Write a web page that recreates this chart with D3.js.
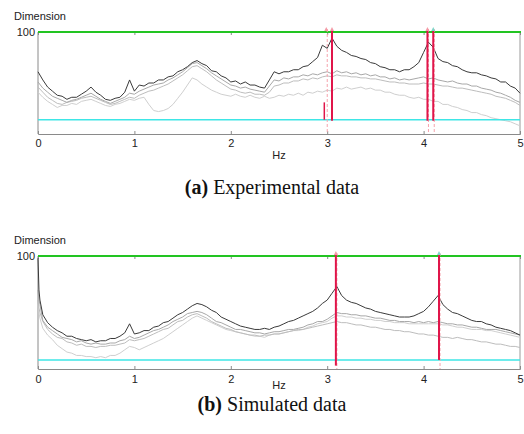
<!DOCTYPE html>
<html><head><meta charset="utf-8">
<script src="https://cdn.jsdelivr.net/npm/d3@7"></script>
<style>body{margin:0;background:#fff}svg{display:block}</style>
</head><body>
<svg id="c" width="524" height="434"></svg>
<script>
// ---------- data ----------
const xTicks = [0, 1, 2, 3, 4, 5];
const yTickLabel = "100";
const yLabel = "Dimension";
const xLabel = "Hz";
const captions = [["(a)", " Experimental data"], ["(b)", " Simulated data"]];

// (a) experimental – sampled every 0.05 Hz, 0..5
const expDark = [61,53,46,42,38,37,34,36,36,39,42,46,41,38,34,33,35,36,41,53,
42,48,47,50,50,53,53,56,57,61,63,66,70,72,69,67,62,61,57,55,
51,52,49,51,48,48,46,45,53,61,59,61,61,63,63,66,67,71,75,87,
84,94,86,82,80,77,76,74,73,70,69,66,65,63,63,61,63,63,66,70,
80,90,85,74,71,70,67,66,63,61,60,60,58,57,55,54,51,51,47,45,40];
const expGrayA = [51,45,41,37,35,33,31,33,34,36,38,40,37,34,32,30,32,34,36,40,
39,42,44,46,48,49,50,53,55,58,61,65,69,70,67,64,60,57,54,51,
48,47,45,46,44,43,42,41,47,53,52,55,54,56,56,58,57,59,58,60,
61,59,62,60,61,59,60,58,59,57,58,56,56,54,55,53,54,53,54,55,
56,54,55,53,52,51,52,50,49,49,47,47,45,44,43,41,40,38,36,33,31];
const expGrayB = [46,41,36,33,30,29,31,32,33,35,36,37,35,33,31,29,30,32,34,36,
35,38,40,42,43,45,47,49,52,55,58,62,66,67,64,61,57,53,50,47,
44,43,41,40,41,39,39,38,41,47,48,50,50,52,52,54,53,55,54,56,
57,56,58,57,57,56,56,55,55,54,54,53,52,51,51,50,50,49,49,49,
50,49,49,48,47,47,46,45,45,44,43,42,41,40,39,37,36,35,33,31,28];
const expGrayC = [41,36,32,29,26,28,28,30,29,32,33,34,32,30,28,27,29,30,32,34,
33,35,36,29,23,22,23,25,29,35,41,48,55,53,49,46,43,41,39,38,
37,39,37,36,38,36,35,37,35,36,38,37,39,38,40,38,41,40,42,41,
43,42,45,44,46,44,45,46,44,45,43,43,41,41,39,38,38,36,35,36,
34,34,32,32,29,29,27,26,24,23,21,21,19,18,16,15,14,13,12,10,8];
const expPeaksDashed = [2.99, 4.04, 4.10];
const expPeaksSolid = [3.05, 4.04, 4.10];
const expMarkers = [[2.99, "#f49aa6"], [3.05, "#f49aa6"], [4.04, "#f49aa6"], [4.10, "#7fd6c8"]];
const expThreshold = 14;

// (b) simulated – 0, 0.01, 0.02, then every 0.05 Hz to 5
const simDark = [98,70,61,
48,41,37,34,32,29,29,27,26,25,26,24,25,25,27,27,29,32,40,31,
32,34,34,37,38,41,42,45,48,50,53,56,58,57,55,52,50,46,44,42,
40,38,37,36,35,35,36,35,37,38,40,42,43,45,47,49,51,54,58,61,
67,73,65,61,59,58,56,54,53,51,50,49,48,47,46,46,46,47,49,51,
55,60,65,57,53,50,49,47,45,43,42,42,40,39,37,36,35,34,32,30];
const simGrayA = [70,61,57,
43,37,34,31,28,27,26,24,25,23,22,23,22,22,23,23,25,26,29,27,
28,30,32,34,35,37,39,42,44,46,49,50,51,50,48,45,42,41,39,37,
35,35,34,33,32,32,31,32,33,33,34,35,35,36,37,39,40,42,42,44,
47,50,49,49,48,48,47,47,46,45,45,44,43,43,42,42,42,41,42,41,
42,41,42,41,40,40,39,39,38,37,37,36,35,35,35,34,33,32,31,30];
const simGrayB = [61,54,50,
42,35,31,28,27,24,23,21,22,20,20,19,20,20,21,21,22,23,26,25,
26,27,29,31,33,35,36,39,42,43,46,48,49,47,45,42,40,38,36,35,
33,32,31,30,30,29,30,30,31,31,32,33,34,35,35,36,37,38,39,40,
41,42,41,41,40,39,39,38,37,37,36,35,35,34,34,33,33,32,31,31,
30,30,29,28,28,27,28,27,26,26,25,24,24,23,22,22,21,20,20,19];
const simGrayC = [57,50,45,
36,30,26,21,18,15,14,12,12,11,11,10,11,10,12,12,14,17,20,19,
17,19,21,23,25,27,30,33,36,39,42,45,47,45,43,41,39,37,35,34,
33,32,31,30,29,29,28,30,31,31,32,33,34,34,35,37,38,40,41,42,
45,47,47,46,46,45,45,44,44,43,43,42,42,41,41,41,40,40,40,40,
40,40,40,39,39,38,37,37,36,35,35,35,34,34,33,32,31,30,29,28];
const simPeaks = [3.09, 4.16];
const simMarkers = [[3.09, "#f49aa6"], [4.16, "#7fd6c8"]];
const simThreshold = 8;

// ---------- drawing ----------
const svg = d3.select("#c");
const expHz = d3.range(101).map(i => i * 0.05);
const simHz = [0, 0.01, 0.02].concat(d3.range(1, 101).map(i => i * 0.05));

const seriesStyle = [
  {c: "#cfcfcf", w: 1}, {c: "#bdbdbd", w: 1}, {c: "#a8a8a8", w: 1}, {c: "#3a3a3a", w: 1}
];

function drawPanel(o) {
  const x = d3.scaleLinear().domain([0, 5]).range([38, 520]);
  const y = d3.scaleLinear().domain([0, 100]).range([o.bottom, o.top]);
  const g = svg.append("g");

  // frame
  g.append("line").attr("x1", 38).attr("x2", 38).attr("y1", o.top).attr("y2", o.bottom).attr("stroke", "#8a8a8a");
  g.append("line").attr("x1", 520).attr("x2", 520).attr("y1", o.top).attr("y2", o.bottom).attr("stroke", "#9a9a9a");

  const ax = g.append("g").attr("transform", `translate(0,${o.bottom})`)
    .call(d3.axisBottom(x).tickValues(xTicks).tickFormat(d3.format("d")).tickSize(-3).tickPadding(o.pad));
  ax.select(".domain").attr("stroke", "#8a8a8a");
  ax.selectAll(".tick line").attr("stroke", "#8a8a8a");
  ax.selectAll("text").attr("font-family", "Liberation Sans, Arial, sans-serif").attr("font-size", 11).attr("fill", "#222");

  const at = g.append("g").attr("transform", `translate(0,${o.top})`)
    .call(d3.axisTop(x).tickValues(xTicks).tickFormat("").tickSize(-3));
  at.select(".domain").remove();
  at.selectAll(".tick line").attr("stroke", "#8a8a8a");

  // lines
  const line = d3.line().x((d, i) => x(o.hz[i])).y(d => y(d));
  o.series.forEach((s, i) => {
    g.append("path").datum(s).attr("d", line).attr("fill", "none")
      .attr("stroke", seriesStyle[i].c).attr("stroke-width", seriesStyle[i].w);
  });

  // threshold and top line
  g.append("line").attr("x1", 38).attr("x2", 520).attr("y1", y(o.threshold)).attr("y2", y(o.threshold))
    .attr("stroke", "#3ee6e6").attr("stroke-width", 1.5);
  g.append("line").attr("x1", 38).attr("x2", 521).attr("y1", y(100)).attr("y2", y(100))
    .attr("stroke", "#22c422").attr("stroke-width", 2);

  // peak lines
  o.dashed.forEach(f => {
    g.append("line").attr("x1", x(f) + 1).attr("x2", x(f) + 1).attr("y1", o.top - 3).attr("y2", o.bottom)
      .attr("stroke", "#f6a3ad").attr("stroke-width", 1).attr("stroke-dasharray", "3,2");
  });
  o.solid.forEach((f, i) => {
    const yEnd = o.solidEnd ? y(o.solidEnd[i]) : y(o.threshold) + 1;
    g.append("line").attr("x1", x(f)).attr("x2", x(f)).attr("y1", o.top - 2).attr("y2", yEnd)
      .attr("stroke", "#e0154a").attr("stroke-width", 2);
  });
  (o.extra || []).forEach(e => {
    g.append("line").attr("x1", x(e[0])).attr("x2", x(e[0])).attr("y1", y(e[1])).attr("y2", y(e[2]))
      .attr("stroke", "#e0154a").attr("stroke-width", 1.5);
  });
  o.markers.forEach(m => {
    g.append("path").attr("d", `M${x(m[0]) - 2},${o.top - 1}L${x(m[0]) + 2},${o.top - 1}L${x(m[0])},${o.top - 5}Z`)
      .attr("fill", m[1]);
  });

  // labels
  g.append("text").attr("x", 14).attr("y", o.top - 12).text(yLabel)
    .attr("font-family", "Liberation Sans, Arial, sans-serif").attr("font-size", 11).attr("fill", "#222");
  g.append("text").attr("x", 35).attr("y", o.top + 4).attr("text-anchor", "end").text(yTickLabel)
    .attr("font-family", "Liberation Sans, Arial, sans-serif").attr("font-size", 11).attr("fill", "#222");
  g.append("text").attr("x", 279).attr("y", o.hzY).attr("text-anchor", "middle").text(xLabel)
    .attr("font-family", "Liberation Sans, Arial, sans-serif").attr("font-size", 11).attr("fill", "#222");

  const cap = g.append("text").attr("x", 272).attr("y", o.capY).attr("text-anchor", "middle")
    .attr("font-family", "Liberation Serif, Times New Roman, serif").attr("font-size", 20).attr("fill", "#111");
  cap.append("tspan").attr("font-weight", "bold").text(o.caption[0]);
  cap.append("tspan").text(o.caption[1]);
}

drawPanel({top: 32, bottom: 134, pad: 5, hz: expHz,
  series: [expGrayC, expGrayB, expGrayA, expDark], threshold: expThreshold,
  dashed: expPeaksDashed, solid: expPeaksSolid, markers: expMarkers,
  extra: [[2.97, 14, 31]],
  hzY: 159, capY: 194, caption: captions[0]});

drawPanel({top: 256, bottom: 369, pad: 6, hz: simHz,
  series: [simGrayC, simGrayB, simGrayA, simDark], threshold: simThreshold,
  dashed: simPeaks, solid: simPeaks, solidEnd: [3, 8], markers: simMarkers,
  hzY: 389, capY: 411, caption: captions[1]});
</script>
</body></html>
